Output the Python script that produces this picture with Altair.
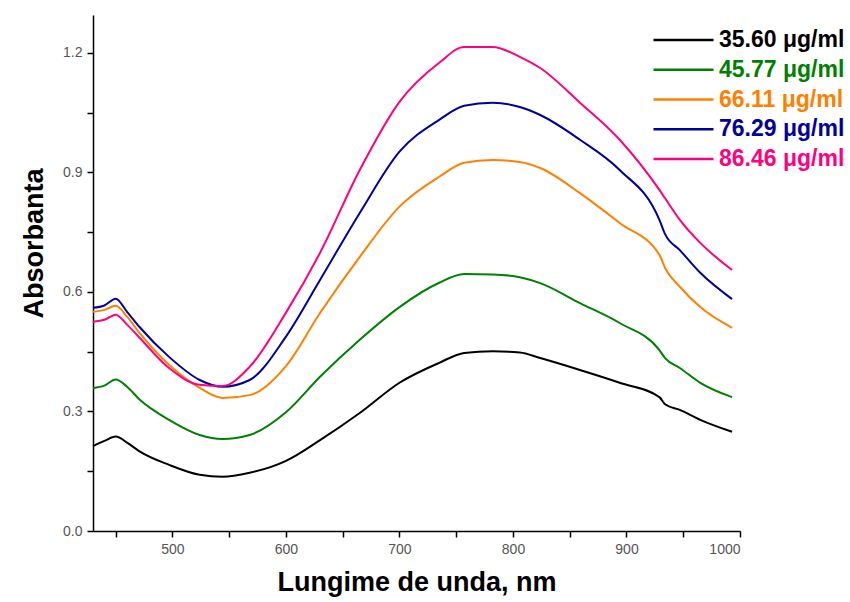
import altair as alt
import pandas as pd

wavelength = [430, 440, 450, 460, 471, 497, 524, 544, 568, 600, 630, 665, 700,
              735, 757, 782, 806, 824, 859, 894, 929, 934, 947, 965, 993]

s_3560 = [0.213, 0.226, 0.237, 0.222, 0.200, 0.166, 0.141, 0.136, 0.146, 0.176,
          0.228, 0.296, 0.372, 0.422, 0.447, 0.451, 0.448, 0.434, 0.404, 0.372,
          0.336, 0.318, 0.304, 0.279, 0.249]
s_4577 = [0.359, 0.365, 0.380, 0.362, 0.330, 0.279, 0.241, 0.231, 0.241, 0.298,
          0.387, 0.480, 0.562, 0.623, 0.645, 0.644, 0.637, 0.622, 0.572, 0.522,
          0.454, 0.434, 0.409, 0.372, 0.336]
s_6611 = [0.550, 0.555, 0.565, 0.538, 0.497, 0.417, 0.359, 0.334, 0.341, 0.414,
          0.547, 0.688, 0.814, 0.889, 0.924, 0.931, 0.926, 0.911, 0.848, 0.773,
          0.693, 0.660, 0.613, 0.562, 0.510]
s_7629 = [0.560, 0.566, 0.583, 0.550, 0.512, 0.437, 0.379, 0.362, 0.379, 0.488,
          0.630, 0.798, 0.952, 1.032, 1.067, 1.075, 1.064, 1.044, 0.982, 0.906,
          0.781, 0.745, 0.705, 0.648, 0.582]
s_8646 = [0.525, 0.530, 0.543, 0.518, 0.485, 0.409, 0.367, 0.364, 0.412, 0.548,
          0.698, 0.906, 1.077, 1.175, 1.215, 1.215, 1.190, 1.162, 1.075, 0.982,
          0.856, 0.835, 0.781, 0.723, 0.655]

series_names = ["35.60 μg/ml", "45.77 μg/ml", "66.11 μg/ml", "76.29 μg/ml", "86.46 μg/ml"]
series_values = [s_3560, s_4577, s_6611, s_7629, s_8646]
series_colors = ["#000000", "#008000", "#FF8000", "#00009C", "#FF0080"]

y_ticks = [0.0, 0.15, 0.3, 0.45, 0.6, 0.75, 0.9, 1.05, 1.2]
x_ticks = [450, 500, 550, 600, 650, 700, 750, 800, 850, 900, 950, 1000]

rows = []
for name, vals in zip(series_names, series_values):
    for w, v in zip(wavelength, vals):
        rows.append({"wl": w, "abs": v, "series": name})
df = pd.DataFrame(rows)

chart = alt.Chart(df).mark_line(strokeWidth=2, interpolate="monotone").encode(
    x=alt.X("wl:Q",
            scale=alt.Scale(domain=[430, 1000], nice=False, zero=False),
            axis=alt.Axis(title="Lungime de unda, nm", values=x_ticks,
                          labelExpr="datum.value % 100 == 0 ? datum.value : ''",
                          grid=False)),
    y=alt.Y("abs:Q",
            scale=alt.Scale(domain=[0, 1.295], nice=False),
            axis=alt.Axis(title="Absorbanta", values=y_ticks,
                          labelExpr="round(datum.value*100) % 30 == 0 ? format(datum.value, '.1f') : ''",
                          grid=False, titleY=228)),
    color=alt.Color("series:N",
                    scale=alt.Scale(domain=series_names, range=series_colors),
                    sort=series_names,
                    legend=alt.Legend(title=None, orient="none", legendX=559, legendY=14,
                                      symbolType="stroke", symbolSize=3600,
                                      symbolStrokeWidth=2.5, clipHeight=22,
                                      rowPadding=6.75, labelOffset=4, padding=0,
                                      labelFont="Liberation Sans", labelFontSize=23,
                                      labelFontWeight="bold",
                                      labelColor=alt.ExprRef(expr="scale('color', datum.value)"))),
).properties(
    width=647, height=516,
    autosize=alt.AutoSizeParams(type="none"),
    padding={"left": 93, "top": 15, "right": 110, "bottom": 71},
).configure_view(
    stroke="transparent"
).configure_axis(
    domainColor="#000000", domainWidth=1.5,
    tickColor="#000000", tickWidth=1.5, tickSize=6,
    labelFont="Liberation Sans", labelFontSize=14, labelColor="#555555",
    labelPadding=5,
    titleFont="Liberation Sans", titleFontSize=27, titleFontWeight="bold",
    titleColor="#000000"
).configure_axisX(
    titlePadding=13
).configure_axisY(
    titlePadding=14
)

chart.save("out.html", embed_options={"renderer": "svg", "actions": False})
